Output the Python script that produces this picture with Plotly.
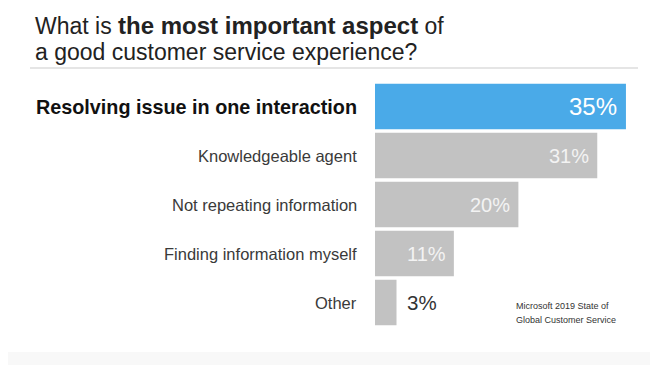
import plotly.graph_objects as go

categories = ["Resolving issue in one interaction", "Knowledgeable agent",
              "Not repeating information", "Finding information myself", "Other"]
values = [35, 31, 20, 11, 3]
value_labels = ["35%", "31%", "20%", "11%", "3%"]
bar_colors = ["#4aaae8", "#c2c2c2", "#c2c2c2", "#c2c2c2", "#c2c2c2"]

# page has an 8px body margin: work in screen pixels, convert to figure pixels
OFF = 8
SCR_W, SCR_H = 658, 365
W_PX, H_PX = SCR_W - OFF, SCR_H - OFF
BAR_LEFT_SCR = 375
PLOT_TOP_SCR = 82
ML = BAR_LEFT_SCR - OFF
MT = PLOT_TOP_SCR - OFF
MR, MB = 20, 38
PW = W_PX - ML - MR
PH = H_PX - MT - MB
PX_PER_UNIT = 7.17

def px_x(sx):
    return (sx - OFF - ML) / PW

def px_y(sy):
    return (H_PX - MB - (sy - OFF)) / PH

FONT = "Liberation Sans, Arial, Helvetica, sans-serif"

fig = go.Figure(go.Bar(
    x=values, y=categories, orientation="h",
    marker=dict(color=bar_colors, line=dict(width=0)),
    hoverinfo="skip",
))

ann = []
for i, c in enumerate(categories):
    if i == 0:
        ann.append(dict(x=0, y=c, xref="x", yref="y", text="<b>" + c + "</b>",
                        xanchor="right", yanchor="middle", xshift=-16, showarrow=False,
                        font=dict(family=FONT, size=19.8, color="#111111")))
    else:
        ann.append(dict(x=0, y=c, xref="x", yref="y", text=c,
                        xanchor="right", yanchor="middle", xshift=-16, showarrow=False,
                        font=dict(family=FONT, size=16.5, color="#3a3a3a")))
for i, (c, v, t) in enumerate(zip(categories, values, value_labels)):
    if i == 0:
        ann.append(dict(x=v, y=c, xref="x", yref="y", text=t, xanchor="right",
                        yanchor="middle", xshift=-7, showarrow=False,
                        font=dict(family=FONT, size=24, color="#ffffff")))
    elif v >= 8:
        ann.append(dict(x=v, y=c, xref="x", yref="y", text=t, xanchor="right",
                        yanchor="middle", xshift=-6, showarrow=False,
                        font=dict(family=FONT, size=20, color="#f3f3f3")))
    else:
        ann.append(dict(x=v, y=c, xref="x", yref="y", text=t, xanchor="left",
                        yanchor="middle", xshift=8, showarrow=False,
                        font=dict(family=FONT, size=20.5, color="#333333")))

ann.append(dict(x=px_x(34), y=px_y(25.5), xref="paper", yref="paper",
                text="What is <b><span style='font-size:24px'>the most important aspect</span></b> of",
                xanchor="left", yanchor="middle", showarrow=False, borderpad=0,
                font=dict(family=FONT, size=23, color="#222222")))
ann.append(dict(x=px_x(34), y=px_y(51.5), xref="paper", yref="paper",
                text="a good customer service experience?", xanchor="left",
                yanchor="middle", showarrow=False, borderpad=0,
                font=dict(family=FONT, size=23, color="#222222")))
ann.append(dict(x=px_x(514), y=px_y(306), xref="paper", yref="paper",
                text="Microsoft 2019 State of", xanchor="left", yanchor="middle",
                showarrow=False, font=dict(family=FONT, size=9, color="#333333")))
ann.append(dict(x=px_x(514), y=px_y(320), xref="paper", yref="paper",
                text="Global Customer Service", xanchor="left", yanchor="middle",
                showarrow=False, font=dict(family=FONT, size=9, color="#333333")))

shapes = [
    dict(type="rect", xref="paper", yref="paper", layer="below",
         x0=px_x(0), x1=px_x(SCR_W + 5), y0=px_y(352), y1=px_y(-5),
         fillcolor="#ffffff", line=dict(width=0)),
    dict(type="line", xref="paper", yref="paper",
         x0=px_x(30), x1=px_x(638), y0=px_y(68), y1=px_y(68),
         line=dict(color="#dddddd", width=1.5)),
]

fig.update_layout(
    width=W_PX, height=H_PX,
    margin=dict(l=ML, r=MR, t=MT, b=MB, pad=0),
    paper_bgcolor="#f8f8f8", plot_bgcolor="rgba(0,0,0,0)",
    showlegend=False, bargap=0.072,
    xaxis=dict(range=[0, PW / PX_PER_UNIT], visible=False, fixedrange=True),
    yaxis=dict(categoryorder="array", categoryarray=categories, autorange="reversed",
               visible=False, fixedrange=True),
    annotations=ann, shapes=shapes,
    font=dict(family=FONT),
)

fig.write_html("out.html")
